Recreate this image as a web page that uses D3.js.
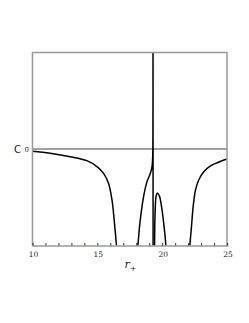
<!DOCTYPE html>
<html>
<head>
<meta charset="utf-8">
<script src="https://cdn.jsdelivr.net/npm/d3@7"></script>
<style>
  body { margin: 0; background: #fff; }
</style>
</head>
<body>
<div id="chart"></div>
<script>
// values (r+ on x, C on y, y in arbitrary units)
const xTicks = [10, 15, 20, 25];

const r1 = [10, 11.35, 12.9, 14.19, 14.97, 15.48, 15.86, 16.13, 16.3, 16.46, 16.5];
const c1 = [-0.024, -0.045, -0.08, -0.121, -0.183, -0.252, -0.355, -0.528, -0.736, -0.977, -1.05];

// left branch up to the pole, then the jump down
const r2 = [18.1, 18.31, 18.57, 18.83, 19.09, 19.22, 19.27, 19.29, 19.295, 19.3];
const c2 = [-1.05, -0.736, -0.49, -0.338, -0.252, -0.183, -0.08, 0.3, 1.1, -1.1];

// small hump right of the pole
const r3 = [19.41, 19.43, 19.47, 19.53, 19.61, 19.72, 19.81, 19.99, 20.12, 20.25, 20.3];
const c3 = [-1.05, -0.8, -0.6, -0.49, -0.457, -0.47, -0.494, -0.632, -0.77, -0.94, -1.05];

const r4 = [22.1, 22.26, 22.39, 22.57, 22.82, 23.21, 23.73, 24.25, 24.94, 25];
const c4 = [-1.05, -0.804, -0.597, -0.425, -0.321, -0.235, -0.176, -0.142, -0.107, -0.105];

const width = 249, height = 323;
const margin = { top: 52.5, right: 22, bottom: 77.5, left: 32.5 };
const w = width - margin.left - margin.right;
const h = height - margin.top - margin.bottom;

const svg = d3.select("#chart").append("svg")
  .attr("width", width)
  .attr("height", height);

const g = svg.append("g")
  .attr("transform", "translate(" + margin.left + "," + margin.top + ")");

const x = d3.scaleLinear().domain([10, 25]).range([0, w]);
const y = d3.scaleLinear().domain([-1, 1]).range([h, 0]);

g.append("clipPath").attr("id", "clip")
  .append("rect").attr("width", w).attr("height", h);

// zero line
g.append("line")
  .attr("x1", 0).attr("x2", w)
  .attr("y1", y(0)).attr("y2", y(0))
  .attr("stroke", "#444").attr("stroke-width", 1);

// curves
const line = d3.line()
  .x(d => x(d[0]))
  .y(d => y(d[1]))
  .curve(d3.curveCatmullRom.alpha(0.5));

[[r1, c1], [r2, c2], [r3, c3], [r4, c4]].forEach(([rs, cs]) => {
  g.append("path")
    .datum(rs.map((r, i) => [r, cs[i]]))
    .attr("clip-path", "url(#clip)")
    .attr("fill", "none")
    .attr("stroke", "#000")
    .attr("stroke-width", 1.5)
    .attr("d", line);
});

// frame
g.append("path")
  .attr("d", "M0," + h + "V0H" + w + "V" + h)
  .attr("fill", "none")
  .attr("stroke", "#999")
  .attr("stroke-width", 1.5);

// x axis, ticks pointing up
const xAxis = g.append("g")
  .attr("transform", "translate(0," + h + ")")
  .call(d3.axisBottom(x).tickValues(d3.range(10, 26, 1)).tickSize(-2.5).tickFormat(""));
xAxis.select(".domain").attr("stroke", "#999").attr("stroke-width", 1.5);
xAxis.selectAll(".tick line").attr("stroke", "#333");

g.append("g").selectAll("text")
  .data(xTicks)
  .join("text")
  .attr("x", d => x(d) + 1)
  .attr("y", h + 11)
  .attr("text-anchor", "middle")
  .attr("font-family", "DejaVu Serif")
  .attr("font-size", "7.5px")
  .attr("fill", "#222")
  .text(d => d);

// y tick label and title
g.append("text")
  .attr("x", -3.5).attr("y", y(0) + 2.5)
  .attr("text-anchor", "end")
  .attr("font-family", "DejaVu Serif")
  .attr("font-size", "7px")
  .attr("fill", "#222")
  .text("0");

g.append("text")
  .attr("x", -18.5).attr("y", y(0) + 3.5)
  .attr("font-family", "DejaVu Sans")
  .attr("font-size", "10px")
  .attr("fill", "#222")
  .text("C");

const xl = g.append("text")
  .attr("x", x(17.1)).attr("y", h + 22)
  .attr("font-family", "DejaVu Serif")
  .attr("font-size", "11px")
  .attr("fill", "#222");
xl.append("tspan").attr("font-style", "italic").text("r");
xl.append("tspan").attr("dy", 3).attr("font-size", "8px").text("+");
</script>
</body>
</html>
